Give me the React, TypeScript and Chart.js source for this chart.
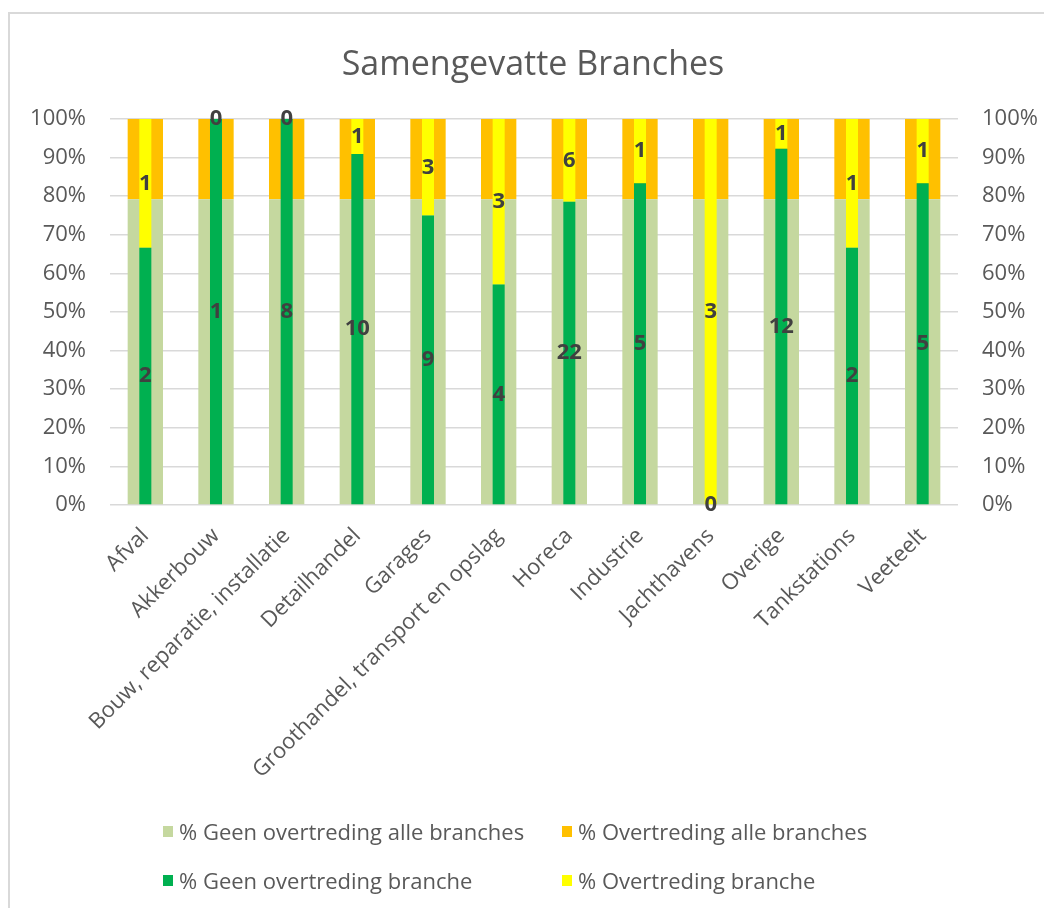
import React, { useEffect, useRef } from "react";
import { Chart, registerables } from "chart.js";

Chart.register(...registerables);

const categories = [
  "Afval",
  "Akkerbouw",
  "Bouw, reparatie, installatie",
  "Detailhandel",
  "Garages",
  "Groothandel, transport en opslag",
  "Horeca",
  "Industrie",
  "Jachthavens",
  "Overige",
  "Tankstations",
  "Veeteelt",
];

// counts shown as labels in the narrow (per-branch) bars
const geenBrancheCount = [2, 1, 8, 10, 9, 4, 22, 5, 0, 12, 2, 5];
const overBrancheCount = [1, 0, 0, 1, 3, 3, 6, 1, 3, 1, 1, 1];

// wide background bars: all branches together (percent)
const geenAllePct = [79.2, 79.2, 79.2, 79.2, 79.2, 79.2, 79.2, 79.2, 79.2, 79.2, 79.2, 79.2];
const overAllePct = [20.8, 20.8, 20.8, 20.8, 20.8, 20.8, 20.8, 20.8, 20.8, 20.8, 20.8, 20.8];

const yTickValues = [0, 10, 20, 30, 40, 50, 60, 70, 80, 90, 100];

const seriesNames = [
  "% Geen overtreding alle branches",
  "% Overtreding alle branches",
  "% Geen overtreding branche",
  "% Overtreding branche",
];
const seriesColors = ["#c5d89f", "#ffc000", "#00b050", "#ffff00"];

// 100% stacked: share of each branch's count
const geenBranchePct = geenBrancheCount.map((g, i) => (100 * g) / (g + overBrancheCount[i]));
const overBranchePct = overBrancheCount.map((o, i) => (100 * o) / (geenBrancheCount[i] + o));

const FONT = '"Open Sans", "DejaVu Sans", sans-serif';
const TEXT = "#595959";

const countLabels = {
  id: "countLabels",
  afterDatasetsDraw(chart: any) {
    const ctx = chart.ctx;
    ctx.save();
    ctx.font = `bold 22px ${FONT}`;
    ctx.fillStyle = "#404040";
    ctx.textAlign = "center";
    ctx.textBaseline = "middle";
    [2, 3].forEach((di) => {
      const meta = chart.getDatasetMeta(di);
      const counts = di === 2 ? geenBrancheCount : overBrancheCount;
      meta.data.forEach((bar: any, i: number) => {
        const p = bar.getProps(["x", "y", "base"], true);
        ctx.fillText(String(counts[i]), p.x, (p.y + p.base) / 2);
      });
    });
    ctx.restore();
  },
};

export default function App() {
  const ref = useRef<HTMLCanvasElement>(null);

  useEffect(() => {
    if (!ref.current) return;
    const yTicksCfg = {
      color: TEXT,
      font: { family: FONT, size: 22 },
      stepSize: 10,
      callback: (v: any) => (yTickValues.includes(v) ? `${v}%` : ""),
    };
    const common = { borderWidth: 0, categoryPercentage: 1, grouped: false };
    const chart = new Chart(ref.current, {
      type: "bar",
      data: {
        labels: categories,
        datasets: [
          {
            ...common,
            label: seriesNames[0],
            data: geenAllePct,
            backgroundColor: seriesColors[0],
            stack: "alle",
            barPercentage: 0.5,
            order: 2,
          },
          {
            ...common,
            label: seriesNames[1],
            data: overAllePct,
            backgroundColor: seriesColors[1],
            stack: "alle",
            barPercentage: 0.5,
            order: 2,
          },
          {
            ...common,
            label: seriesNames[2],
            data: geenBranchePct,
            backgroundColor: seriesColors[2],
            stack: "branche",
            barPercentage: 0.17,
            order: 1,
          },
          {
            ...common,
            label: seriesNames[3],
            data: overBranchePct,
            backgroundColor: seriesColors[3],
            stack: "branche",
            barPercentage: 0.17,
            order: 1,
          },
        ],
      },
      options: {
        animation: false,
        responsive: false,
        maintainAspectRatio: false,
        layout: { padding: { top: 119, bottom: 0, left: 0, right: 0 } },
        plugins: {
          legend: { display: false },
          title: { display: false },
          tooltip: { enabled: false },
        },
        scales: {
          x: {
            stacked: true,
            grid: { display: false },
            border: { display: false },
            ticks: {
              color: TEXT,
              font: { family: FONT, size: 22 },
              minRotation: 45,
              maxRotation: 45,
              autoSkip: false,
              padding: 10,
            },
            afterFit: (s: any) => {
              s.height = 403;
            },
          },
          y: {
            stacked: true,
            min: 0,
            max: 100,
            position: "left",
            grid: { color: "#d9d9d9", lineWidth: 1.5, drawTicks: false },
            border: { display: false },
            ticks: { ...yTicksCfg, padding: 24 },
            afterFit: (s: any) => {
              s.width = 110;
            },
          },
          y2: {
            min: 0,
            max: 100,
            position: "right",
            grid: { display: false, drawTicks: false },
            border: { display: false },
            ticks: { ...yTicksCfg, padding: 24 },
            afterFit: (s: any) => {
              s.width = 86;
            },
          },
        },
      },
      plugins: [countLabels],
    });
    return () => chart.destroy();
  }, []);

  const legendRows = [
    { y: 831, items: [0, 1] },
    { y: 880, items: [2, 3] },
  ];
  const colX = [163, 562];

  return (
    <div
      style={{
        position: "fixed",
        left: 0,
        top: 0,
        width: 1044,
        height: 908,
        background: "#fff",
        overflow: "hidden",
        fontFamily: FONT,
      }}
    >
      <div
        style={{
          position: "absolute",
          left: 8,
          top: 12,
          width: 1100,
          height: 1000,
          borderTop: "2px solid #d9d9d9",
          borderLeft: "2px solid #d9d9d9",
        }}
      />
      <canvas ref={ref} width={1044} height={908} style={{ position: "absolute", left: 0, top: 0 }} />
      <div
        style={{
          position: "absolute",
          left: 533,
          top: 40,
          transform: "translateX(-50%)",
          fontSize: 34,
          color: TEXT,
          whiteSpace: "nowrap",
          lineHeight: "44px",
        }}
      >
        Samengevatte Branches
      </div>
      {legendRows.map((row) =>
        row.items.map((si, ci) => (
          <div
            key={si}
            style={{
              position: "absolute",
              left: colX[ci],
              top: row.y - 15,
              height: 30,
              display: "flex",
              alignItems: "center",
              whiteSpace: "nowrap",
              fontSize: 22,
              color: TEXT,
            }}
          >
            <span
              style={{
                display: "inline-block",
                width: 10,
                height: 11,
                background: seriesColors[si],
                marginRight: 6,
              }}
            />
            {seriesNames[si]}
          </div>
        ))
      )}
    </div>
  );
}
